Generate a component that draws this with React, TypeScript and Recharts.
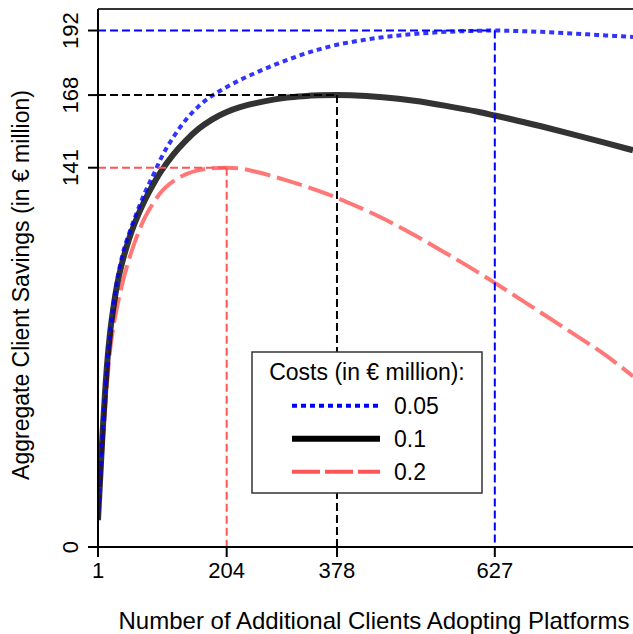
import React from 'react';
import { LineChart, Line, XAxis, YAxis, ReferenceLine, Legend, Label } from 'recharts';

const FONT = "'Liberation Sans', Arial, Helvetica, sans-serif";

// number of additional clients
const clients = [1, 3, 5, 8, 10, 13, 15, 20, 25, 30, 40, 50, 60, 75, 90, 100, 120, 140, 160, 180, 204, 225, 250, 280, 300, 325, 350, 378, 400, 450, 500, 550, 600, 627, 650, 700, 750, 800, 845];

// savings (in € million) per cost level
const cost005 = [10, 19, 28, 41.5, 49.5, 60.5, 67, 80, 89.5, 97.5, 109, 116.5, 123, 131.8, 139.2, 144.3, 152.4, 158.9, 163.9, 167.6, 171, 173.6, 176.3, 179.3, 181.1, 183.2, 185, 186.7, 187.7, 189.5, 190.7, 191.5, 191.9, 192, 191.9, 191.5, 190.9, 190.2, 189.6];
const cost01 = [10, 19, 28, 41.5, 49.5, 60.5, 67, 79.5, 88.5, 96, 106.5, 114.5, 121, 129, 135.6, 139.5, 146, 151.2, 155.5, 158.8, 161.7, 163.5, 165, 166.4, 167.1, 167.6, 167.9, 168, 167.9, 167.2, 165.9, 164, 161.8, 160.4, 159.2, 156.4, 153.4, 150.3, 147.5];
const cost02 = [10, 18.5, 26, 37, 44, 54, 60, 73, 81.5, 88, 98.5, 107, 114, 122.5, 128.5, 131.8, 136, 138.6, 140.1, 140.8, 141, 140.7, 139.5, 137.6, 136.2, 134.3, 132.3, 129.8, 127.6, 122.2, 116, 109.2, 102.2, 98.2, 94.7, 87.1, 79.4, 71.6, 63.5];

// optimum of each curve
const peakClients = [627, 378, 204];
const peakSavings = [192, 168, 141];

const xTicks = [1, 204, 378, 627];
const yTicks = [0, 141, 168, 192];

const series = [
  { key: 'c005', name: '0.05', color: '#0000FF', width: 4, dash: '5 4' },
  { key: 'c01', name: '0.1', color: '#000000', width: 6, dash: undefined },
  { key: 'c02', name: '0.2', color: '#FF5555', width: 4, dash: '26 7' },
];

const data = clients.map((n, i) => ({ n, c005: cost005[i], c01: cost01[i], c02: cost02[i] }));

const YTick = (props: any) => {
  const { x, y, payload } = props;
  return (
    <text
      transform={`translate(${x - 10}, ${y}) rotate(-90)`}
      textAnchor="middle"
      fontSize={22}
      fontFamily={FONT}
      fill="#000"
    >
      {payload.value}
    </text>
  );
};

const LegendBox = () => (
  <svg width={232} height={143} style={{ display: 'block' }}>
    <rect x={1} y={1} width={230} height={141} fill="#fff" stroke="#333" strokeWidth={1.5} />
    <text x={116} y={29} textAnchor="middle" fontSize={23} fontFamily={FONT} fill="#000">
      Costs (in € million):
    </text>
    {series.map((s, i) => (
      <g key={s.key}>
        <line
          x1={41}
          x2={129}
          y1={54.7 + i * 33}
          y2={54.7 + i * 33}
          stroke={s.color}
          strokeWidth={s.width}
          strokeDasharray={s.key === 'c02' ? '28 5' : s.dash}
        />
        <text x={143} y={62.5 + i * 33} fontSize={23} fontFamily={FONT} fill="#000">
          {s.name}
        </text>
      </g>
    ))}
  </svg>
);

const App: React.FC = () => {
  return (
    <div style={{ position: 'absolute', left: 0, top: 0, width: 633, height: 634, overflow: 'hidden', background: '#fff' }}>
      <LineChart width={633} height={634} data={data} margin={{ top: 9, right: 0, bottom: 0, left: 0 }}>
        <XAxis
          type="number"
          dataKey="n"
          domain={[1, 845]}
          ticks={xTicks}
          allowDataOverflow
          tickSize={10}
          tickMargin={5}
          height={87}
          axisLine={{ stroke: '#000', strokeWidth: 2 }}
          tickLine={{ stroke: '#000', strokeWidth: 2 }}
          tick={{ fontSize: 22, fontFamily: FONT, fill: '#000' }}
        >
          <Label
            content={() => (
              <text x={374} y={629} textAnchor="middle" fontSize={24} fontFamily={FONT} fill="#000">
                Number of Additional Clients Adopting Platforms
              </text>
            )}
          />
        </XAxis>
        <YAxis
          type="number"
          domain={[0, 200]}
          ticks={yTicks}
          allowDataOverflow
          width={98}
          tickSize={10}
          tickMargin={0}
          axisLine={{ stroke: '#000', strokeWidth: 2 }}
          tickLine={{ stroke: '#000', strokeWidth: 2 }}
          tick={<YTick />}
        >
          <Label
            content={() => (
              <text
                transform="translate(29, 285) rotate(-90)"
                textAnchor="middle"
                fontSize={23}
                fontFamily={FONT}
                fill="#000"
              >
                Aggregate Client Savings (in € million)
              </text>
            )}
          />
        </YAxis>
        <ReferenceLine y={200} stroke="#333" strokeWidth={2} />
        {[...series].reverse().map((s) => (
          <Line
            key={s.key}
            type="monotone"
            dataKey={s.key}
            name={s.name}
            stroke={s.color}
            strokeOpacity={0.8}
            strokeWidth={s.width}
            strokeDasharray={s.dash}
            dot={false}
            activeDot={false}
            isAnimationActive={false}
          />
        ))}
        {series.map((s, i) => (
          <ReferenceLine
            key={`h-${s.key}`}
            segment={[{ x: 1, y: peakSavings[i] }, { x: peakClients[i], y: peakSavings[i] }]}
            stroke={s.color}
            strokeWidth={2}
            strokeDasharray="8 4"
          />
        ))}
        {series.map((s, i) => (
          <ReferenceLine
            key={`v-${s.key}`}
            segment={[{ x: peakClients[i], y: peakSavings[i] }, { x: peakClients[i], y: 0 }]}
            stroke={s.color}
            strokeWidth={2}
            strokeDasharray="8 4"
          />
        ))}
        <Legend
          layout="horizontal"
          verticalAlign="middle"
          wrapperStyle={{ position: 'absolute', left: 251, top: 351, width: 232, height: 143 }}
          content={() => <LegendBox />}
        />
      </LineChart>
    </div>
  );
};

export default App;
